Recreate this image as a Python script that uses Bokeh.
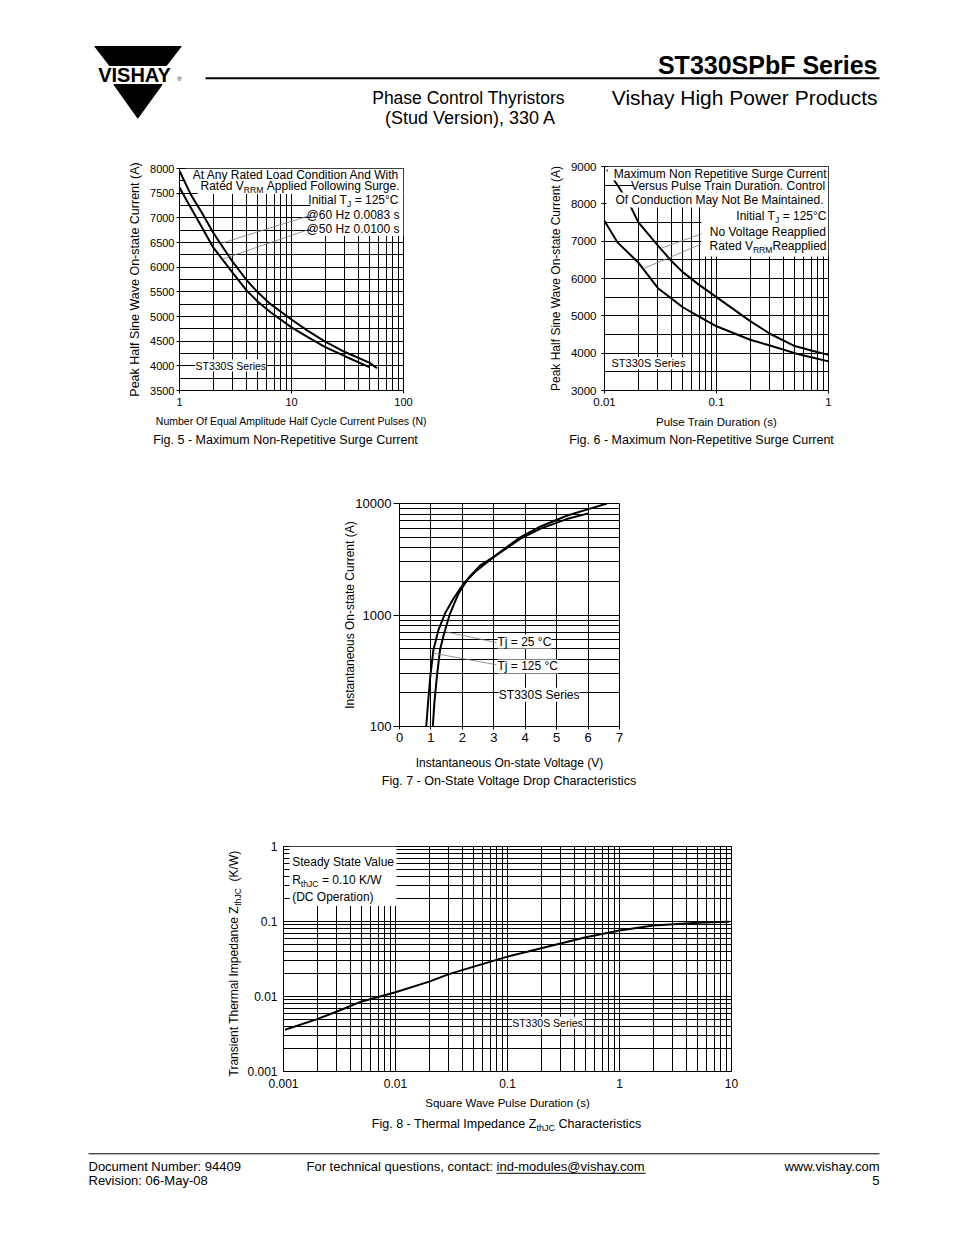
import math
import numpy as np
from bokeh.plotting import figure
from bokeh.layouts import column, row
from bokeh.models import Range1d, FixedTicker, CustomJSTickFormatter, Label, BoxAnnotation
from bokeh.embed import file_html
from bokeh.resources import INLINE

FONT = "Liberation Sans"

# ---------------- data ----------------
# Fig. 5 - surge current vs number of pulses
fig5_pulses_60hz = [1, 1.27, 1.58, 2, 2.3, 3, 4, 5, 6.5, 10, 14, 20, 30, 50, 58]
fig5_current_60hz = [7950, 7460, 7110, 6700, 6490, 6100, 5730, 5490, 5250, 4940, 4710, 4490, 4280, 4060, 3950]
fig5_pulses_50hz = [1, 1.16, 1.53, 2, 3, 4, 5, 6.5, 10, 14, 20, 30, 50]
fig5_current_50hz = [7615, 7350, 6870, 6400, 5880, 5520, 5300, 5085, 4780, 4580, 4380, 4195, 3970]
fig5_x_ticks = [1, 10, 100]
fig5_y_ticks = [3500, 4000, 4500, 5000, 5500, 6000, 6500, 7000, 7500, 8000]
fig5_y_minor = [3750, 4250, 4750, 5250, 5750, 6250, 6750, 7250, 7750]

# Fig. 6 - surge current vs pulse train duration
fig6_t_noreapplied = [0.0105, 0.0134, 0.017, 0.02, 0.03, 0.04, 0.05, 0.07, 0.1, 0.2, 0.3, 0.5, 0.7, 1.0]
fig6_i_noreapplied = [8920, 8450, 7950, 7510, 6880, 6455, 6170, 5830, 5500, 4860, 4520, 4190, 4070, 3955]
fig6_t_rated = [0.01, 0.013, 0.02, 0.03, 0.04, 0.05, 0.07, 0.1, 0.2, 0.3, 0.5, 0.7, 1.0]
fig6_i_rated = [7540, 6975, 6430, 5740, 5455, 5230, 4980, 4720, 4360, 4205, 4000, 3890, 3780]
fig6_x_ticks = [0.01, 0.1, 1]
fig6_y_ticks = [3000, 4000, 5000, 6000, 7000, 8000, 9000]
fig6_y_minor = [3500, 4500, 5500, 6500, 7500, 8500]

# Fig. 7 - on-state voltage drop
fig7_v_25c = [1.06, 1.11, 1.19, 1.29, 1.42, 1.61, 1.88, 2.20, 2.57, 2.99, 3.84, 4.47, 5.32, 6.01, 6.60]
fig7_i_25c = [100, 164, 282, 488, 687, 1035, 1560, 2163, 2785, 3305, 4974, 6192, 7760, 8910, 10000]
fig7_v_125c = [0.85, 0.91, 0.98, 1.08, 1.24, 1.45, 1.72, 2.04, 2.46, 2.99, 3.84, 4.47, 5.32, 6.01]
fig7_i_125c = [100, 164, 282, 488, 735, 1035, 1406, 1914, 2513, 3305, 4817, 5915, 7250, 8150]
fig7_x_ticks = [0, 1, 2, 3, 4, 5, 6, 7]
fig7_y_ticks = [100, 1000, 10000]

# Fig. 8 - transient thermal impedance
fig8_t = [0.00103, 0.002, 0.003, 0.005, 0.01, 0.02, 0.03, 0.05, 0.1, 0.2, 0.5, 1, 2, 5, 9.5]
fig8_z = [0.0036, 0.0050, 0.0063, 0.0086, 0.0114, 0.0158, 0.0199, 0.0250, 0.0340, 0.0440, 0.0615, 0.0760, 0.0885, 0.0960, 0.0990]
fig8_x_ticks = [0.001, 0.01, 0.1, 1, 10]
fig8_y_ticks = [0.001, 0.01, 0.1, 1]


def decade_minors(e0, e1):
    return [m * 10.0 ** e for e in range(e0, e1) for m in range(2, 10)]


# ---------------- helpers ----------------
WID = {' ': 278, '!': 278, '(': 333, ')': 333, '-': 333, '.': 278, ',': 278, '/': 278, ':': 278,
       '@': 1015, '°': 400, '=': 584}
for _c in '0123456789':
    WID[_c] = 556
WID.update(dict(A=667, B=667, C=722, D=722, E=667, F=611, G=778, H=722, I=278, J=500, K=667, L=556,
                M=833, N=722, O=778, P=667, Q=778, R=722, S=667, T=611, U=722, V=667, W=944, X=667,
                Y=667, Z=611))
WID.update(dict(a=556, b=556, c=500, d=556, e=556, f=278, g=556, h=556, i=222, j=222, k=500, l=222,
                m=833, n=556, o=556, p=556, q=556, r=333, s=500, t=278, u=556, v=500, w=722, x=500,
                y=500, z=500))


def tw(s, size):
    return sum(WID.get(ch, 556) for ch in s) / 1000.0 * size


class Frame:
    def __init__(self, L, R, T, B, xr, yr, xlog=False, ylog=False):
        self.L, self.R, self.T, self.B = L, R, T, B
        self.xr, self.yr, self.xlog, self.ylog = xr, yr, xlog, ylog

    @staticmethod
    def _map(f, r, log):
        a, b = r
        if log:
            return 10 ** (math.log10(a) + f * (math.log10(b) - math.log10(a)))
        return a + f * (b - a)

    def x(self, px):
        return self._map((px - self.L) / (self.R - self.L), self.xr, self.xlog)

    def y(self, py):
        return self._map((self.B - py) / (self.B - self.T), self.yr, self.ylog)


def chart(ox, oy, w, h, fr):
    p = figure(width=w, height=h,
               x_axis_type="log" if fr.xlog else "linear",
               y_axis_type="log" if fr.ylog else "linear",
               x_range=Range1d(*fr.xr), y_range=Range1d(*fr.yr),
               min_border_left=fr.L - ox, min_border_right=ox + w - fr.R,
               min_border_top=fr.T - oy, min_border_bottom=oy + h - fr.B,
               output_backend="svg", toolbar_location=None)
    p.outline_line_color = "black"
    p.outline_line_width = 1
    p.border_fill_color = "white"
    p.background_fill_color = "white"
    for ax in (p.xaxis[0], p.yaxis[0]):
        ax.axis_line_color = "black"
        ax.major_tick_line_color = "black"
        ax.minor_tick_line_color = None
        ax.major_tick_in = 0
        ax.major_label_text_font = FONT
        ax.axis_label_text_font = FONT
        ax.axis_label_text_font_style = "normal"
        ax.major_label_text_color = "black"
        ax.axis_label_text_color = "black"
    for g in (p.xgrid[0], p.ygrid[0]):
        g.grid_line_color = "black"
        g.grid_line_alpha = 1
        g.grid_line_width = 1
        g.minor_grid_line_color = "black"
        g.minor_grid_line_alpha = 1
        g.minor_grid_line_width = 1
    return p


def blank(ox, oy, w, h):
    fr = Frame(ox, ox + w, oy, oy + h, (ox, ox + w), (oy + h, oy))
    p = figure(width=w, height=h, x_range=Range1d(ox, ox + w), y_range=Range1d(oy + h, oy),
               x_axis_location=None, y_axis_location=None, min_border=0,
               min_border_left=0, min_border_right=0, min_border_top=0, min_border_bottom=0,
               output_backend="svg", toolbar_location=None)
    p.grid.visible = False
    p.outline_line_color = None
    p.border_fill_color = "white"
    return p, fr


def set_ticks(axis, grid, major, minor):
    t = FixedTicker(ticks=major, minor_ticks=minor)
    axis.ticker = t
    grid.ticker = t
    axis.formatter = CustomJSTickFormatter(code="return String(tick);")


def style_axis(ax, tick_size, tick_out, standoff, label, label_size, label_standoff):
    ax.major_label_text_font_size = f"{tick_size}px"
    ax.major_tick_out = tick_out
    if tick_out == 0:
        ax.major_tick_line_color = None
    ax.major_label_standoff = standoff
    ax.axis_label = label
    ax.axis_label_text_font_size = f"{label_size}px"
    ax.axis_label_standoff = label_standoff


def text(p, fr, px, py, s, size, align="left", bold=False, angle=0.0, bg=None):
    lab = Label(x=fr.x(px), y=fr.y(py), text=s, text_font=FONT, text_font_size=f"{size}px",
                text_align=align, text_baseline="middle", angle=angle, text_color="black",
                text_font_style="bold" if bold else "normal")
    if bg:
        lab.background_fill_color = bg
    p.add_layout(lab)


def rich(p, fr, px, py, parts, size, align="left", bg=None):
    """Left-to-right pieces with subscripts; leading spaces are turned into offsets."""
    sub = round(size * 0.72, 1)
    widths = [tw(t, sub if s else size) for t, s in parts]
    total = sum(widths)
    if align == "left":
        x = px
    elif align == "right":
        x = px - total
    else:
        x = px - total / 2.0
    for (t, s), w in zip(parts, widths):
        sz = sub if s else size
        stripped = t.lstrip(" ")
        lead = tw(t[:len(t) - len(stripped)], sz)
        yy = py + size * 0.36 if s else py
        text(p, fr, x + lead, yy, stripped, sz, bg=bg)
        x += w


def white_box(p, fr, l, r, t, b):
    p.add_layout(BoxAnnotation(left=fr.x(l), right=fr.x(r), top=fr.y(t), bottom=fr.y(b),
                               fill_color="white", fill_alpha=1.0, line_color=None))


def interp_logx(xq, xs, ys):
    return float(np.interp(math.log10(xq), np.log10(xs), ys))


LEADER = dict(line_color="#7a7a7a", line_width=0.8)
PAGE_W = 950

# ---------------- header ----------------
hp, HF = blank(0, 0, PAGE_W, 150)
hp.patch([94.3, 180.7, 166.0, 109.0], [46, 46, 65.0, 65.0], color="black")
hp.patch([113.3, 161.7, 137.3], [84.0, 84.0, 117.7], color="black")
text(hp, HF, 134, 74.8, "VISHAY", 20, align="center", bold=True)
text(hp, HF, 179, 78.5, "®", 6, align="center")
hp.line([205, 879], [77.7, 77.7], line_color="black", line_width=2)
text(hp, HF, 877, 64.5, "ST330SPbF Series", 25, align="right", bold=True)
text(hp, HF, 468, 97.3, "Phase Control Thyristors", 17.5, align="center")
text(hp, HF, 470, 117.7, "(Stud Version), 330 A", 18, align="center")
text(hp, HF, 877, 97.3, "Vishay High Power Products", 21, align="right")

# ---------------- Fig. 5 ----------------
F5 = Frame(179, 403, 168, 390, (1, 100), (3500, 8000), xlog=True)
p5 = chart(0, 150, 470, 280, F5)
set_ticks(p5.xaxis[0], p5.xgrid[0], fig5_x_ticks, decade_minors(0, 2))
set_ticks(p5.yaxis[0], p5.ygrid[0], fig5_y_ticks, fig5_y_minor)
style_axis(p5.xaxis[0], 11, 3, 3, "Number Of Equal Amplitude Half Cycle Current Pulses (N)", 10.5, 6)
style_axis(p5.yaxis[0], 11, 3, 1, "Peak Half Sine Wave On-state Current (A)", 12.5, 5)
p5.line(fig5_pulses_60hz, fig5_current_60hz, line_color="black", line_width=2)
p5.line(fig5_pulses_50hz, fig5_current_50hz, line_color="black", line_width=2)
for (px, py, nq, xs, ys) in [(311, 214.5, 2.32, fig5_pulses_60hz, fig5_current_60hz),
                             (311, 228.0, 2.41, fig5_pulses_50hz, fig5_current_50hz)]:
    p5.line([F5.x(px), nq], [F5.y(py), interp_logx(nq, xs, ys)], **LEADER)
white_box(p5, F5, 185, 403, 168, 180.5)
white_box(p5, F5, 197, 403, 180.5, 193.5)
white_box(p5, F5, 310, 403, 192, 235.5)
A5 = 12
rich(p5, F5, 399, 174, [("At Any Rated Load Condition And With", False)], A5, "right")
rich(p5, F5, 399, 185.5, [("Rated V", False), ("RRM", True), (" Applied Following Surge.", False)], A5, "right")
rich(p5, F5, 398, 199, [("Initial T", False), ("J", True), (" = 125°C", False)], A5, "right")
rich(p5, F5, 399, 214.5, [("@60 Hz 0.0083 s", False)], A5, "right")
rich(p5, F5, 399, 228, [("@50 Hz 0.0100 s", False)], A5, "right")
text(p5, F5, 195, 365, "ST330S Series", 10.5, bg="white")

# ---------------- Fig. 6 ----------------
F6 = Frame(604, 828, 166, 390, (0.01, 1), (3000, 9000), xlog=True)
p6 = chart(470, 150, PAGE_W - 470, 280, F6)
set_ticks(p6.xaxis[0], p6.xgrid[0], fig6_x_ticks, decade_minors(-2, 0))
set_ticks(p6.yaxis[0], p6.ygrid[0], fig6_y_ticks, fig6_y_minor)
style_axis(p6.xaxis[0], 11.5, 3, 3, "Pulse Train Duration (s)", 11.5, 7)
style_axis(p6.yaxis[0], 11.5, 3, 4, "Peak Half Sine Wave On-state Current (A)", 12, 5)
p6.line(fig6_t_noreapplied, fig6_i_noreapplied, line_color="black", line_width=2)
p6.line(fig6_t_rated, fig6_i_rated, line_color="black", line_width=2)
for (px, py, tq, xs, ys) in [(702, 233, 0.0316, fig6_t_noreapplied, fig6_i_noreapplied),
                             (702, 243, 0.0221, fig6_t_rated, fig6_i_rated)]:
    p6.line([F6.x(px), tq], [F6.y(py), interp_logx(tq, xs, ys)], **LEADER)
white_box(p6, F6, 607, 828, 166, 180)
white_box(p6, F6, 633, 828, 179, 192)
white_box(p6, F6, 606, 828, 192, 207)
white_box(p6, F6, 701, 828, 207, 256)
A6 = 12
rich(p6, F6, 826, 173, [("Maximum Non Repetitive Surge Current", False)], A6, "right")
rich(p6, F6, 826, 185.5, [("Versus Pulse Train Duration. Control", False)], A6, "right")
rich(p6, F6, 823, 199.5, [("Of Conduction May Not Be Maintained.", False)], A6, "right")
rich(p6, F6, 826, 215, [("Initial T", False), ("J", True), (" = 125°C", False)], A6, "right")
rich(p6, F6, 826, 231.7, [("No Voltage Reapplied", False)], A6, "right")
rich(p6, F6, 826, 245, [("Rated V", False), ("RRM", True), ("Reapplied", False)], A6, "right")
text(p6, F6, 611, 362.7, "ST330S Series", 11, bg="white")

# captions of Fig. 5 and 6
capA, CA = blank(0, 430, PAGE_W, 20)
text(capA, CA, 285, 439.5, "Fig. 5 - Maximum Non-Repetitive Surge Current", 12.5, align="center")
text(capA, CA, 701, 439.5, "Fig. 6 - Maximum Non-Repetitive Surge Current", 12.5, align="center")

# ---------------- Fig. 7 ----------------
F7 = Frame(399, 619, 503, 727, (0, 7), (100, 10000), ylog=True)
p7 = chart(0, 450, PAGE_W, 322, F7)
set_ticks(p7.xaxis[0], p7.xgrid[0], fig7_x_ticks, [])
set_ticks(p7.yaxis[0], p7.ygrid[0], fig7_y_ticks, decade_minors(2, 4))
style_axis(p7.xaxis[0], 13, 3, 3, "Instantaneous On-state Voltage (V)", 12, 11)
style_axis(p7.yaxis[0], 13, 6, 2, "Instantaneous On-state Current (A)", 12, -5)
p7.line(fig7_v_25c, fig7_i_25c, line_color="black", line_width=2)
p7.line(fig7_v_125c, fig7_i_125c, line_color="black", line_width=2)
for (px, py, iq, vs, cs) in [(496, 642.7, 710, fig7_v_25c, fig7_i_25c),
                             (496, 665.0, 455, fig7_v_125c, fig7_i_125c)]:
    vq = float(np.interp(math.log10(iq), np.log10(cs), vs))
    p7.line([F7.x(px), vq], [F7.y(py), iq], **LEADER)
text(p7, F7, 497, 641.7, "Tj = 25 °C", 12, bg="white")
text(p7, F7, 497, 666.7, "Tj = 125 °C", 12, bg="white")
text(p7, F7, 498.3, 695, "ST330S Series", 12, bg="white")

capB, CB = blank(0, 772, PAGE_W, 18)
text(capB, CB, 508.5, 780.5, "Fig. 7 - On-State Voltage Drop Characteristics", 12.5, align="center")

# ---------------- Fig. 8 ----------------
YL_W = 244
ylab8, CY = blank(0, 790, YL_W, 321)
ycur = 1076.0
for t_, sub_ in [("Transient Thermal Impedance Z", False), ("thJC", True), ("  (K/W)", False)]:
    sz = 8.6 if sub_ else 12
    stripped = t_.lstrip(" ")
    lead = tw(t_[:len(t_) - len(stripped)], sz)
    xx = 233.5 + (3.8 if sub_ else 0)
    text(ylab8, CY, xx, ycur - lead, stripped, sz, angle=math.pi / 2)
    ycur -= tw(t_, sz)

F8 = Frame(283, 731, 846, 1071, (0.001, 10), (0.001, 1), xlog=True, ylog=True)
p8 = chart(YL_W, 790, 708, 321, F8)
set_ticks(p8.xaxis[0], p8.xgrid[0], fig8_x_ticks, decade_minors(-3, 1))
set_ticks(p8.yaxis[0], p8.ygrid[0], fig8_y_ticks, decade_minors(-3, 0))
style_axis(p8.xaxis[0], 12, 0, 3, "Square Wave Pulse Duration (s)", 11.5, 6)
style_axis(p8.yaxis[0], 12, 0, 2, None, 12, 0)
p8.line(fig8_t, fig8_z, line_color="black", line_width=2)
white_box(p8, F8, 289, 396, 846, 905.5)
rich(p8, F8, 291.7, 861, [("Steady State Value", False)], 12)
rich(p8, F8, 291.7, 879, [("R", False), ("thJC", True), (" = 0.10 K/W", False)], 12)
rich(p8, F8, 291.7, 896.7, [("(DC Operation)", False)], 12)
text(p8, F8, 511.7, 1022.3, "ST330S Series", 10.5, bg="white")

capC, CC = blank(0, 1111, PAGE_W, 24)
rich(capC, CC, 506, 1123.3, [("Fig. 8 - Thermal Impedance Z", False), ("thJC", True), (" Characteristics", False)], 12.5, "center")

# ---------------- footer ----------------
fp, FF = blank(0, 1135, PAGE_W, 95)
fp.line([88, 879], [1153.3, 1153.3], line_color="black", line_width=1)
FS = 13
text(fp, FF, 88, 1166, "Document Number: 94409", FS)
text(fp, FF, 88, 1180, "Revision: 06-May-08", FS)
s1 = "For technical questions, contact:"
s2 = "ind-modules@vishay.com"
text(fp, FF, 306, 1166, s1, FS)
x2 = 306 + tw(s1 + " ", FS)
text(fp, FF, x2, 1166, s2, FS)
fp.line([x2, x2 + tw(s2, FS)], [1172.8, 1172.8], line_color="black", line_width=1)
text(fp, FF, 879, 1166, "www.vishay.com", FS, align="right")
text(fp, FF, 879, 1180, "5", FS, align="right")

layout = column(
    row(hp),
    row(column(p5), column(p6)),
    row(capA),
    row(p7),
    row(capB),
    row(column(ylab8), column(p8)),
    row(capC),
    row(fp),
    spacing=0,
)
open("out.html", "w").write(file_html(layout, INLINE))
